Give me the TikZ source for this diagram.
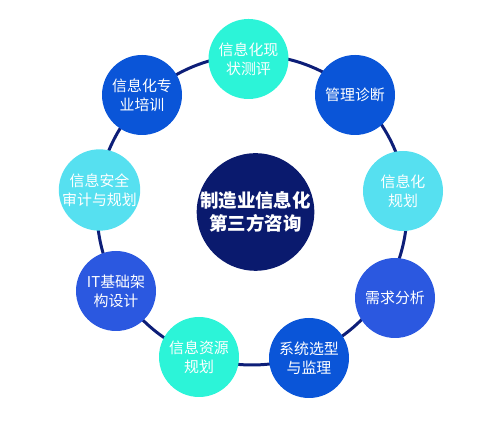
\documentclass[tikz,border=0pt]{standalone}
\usepackage{fontspec}
\newfontfamily\cjk{Noto Sans CJK SC}
\definecolor{navy}{RGB}{10,26,110}
\definecolor{ringblue}{RGB}{13,30,120}
\definecolor{teal}{RGB}{44,244,216}
\definecolor{sky}{RGB}{86,224,240}
\definecolor{deepblue}{RGB}{10,85,216}
\definecolor{midblue}{RGB}{43,88,224}
\begin{document}
\begin{tikzpicture}[
    bubble/.style={circle, minimum size=1.6cm, inner sep=0pt, align=center,
      text=white, font=\cjk\fontsize{8.5}{10.8}\selectfont},
    hub/.style={circle, fill=navy, minimum size=2.32cm, inner sep=0pt, align=center,
      text=white, font=\cjk\bfseries\fontsize{10.5}{12.6}\selectfont}]
  \useasboundingbox (0,0) rectangle (10,8.5);
  % ring behind the bubbles
  \coordinate (ring) at (5.04,4.30);
  \draw[ringblue, line width=1.7pt] (ring) circle (3.1);
  % centre
  \node[hub] (consult) at (5.11,4.26) {制造业信息化\\第三方咨询};
  % services round the ring
  \node[bubble, fill=teal]     (status)   at (4.97,7.32) {信息化现\\状测评};
  \node[bubble, fill=deepblue] (diagnose) at (7.10,6.60) {管理诊断};
  \node[bubble, fill=sky]      (plan)     at (8.06,4.68) {信息化\\规划};
  \node[bubble, fill=midblue]  (demand)   at (7.90,2.54) {需求分析};
  \node[bubble, fill=deepblue] (select)   at (6.18,1.34) {系统选型\\与监理};
  \node[bubble, fill=teal]     (resource) at (3.98,1.36) {信息资源\\规划};
  \node[bubble, fill=midblue]  (infra)    at (2.32,2.68) {IT基础架\\构设计};
  \node[bubble, fill=sky]      (security) at (1.99,4.70) {信息安全\\审计与规划};
  \node[bubble, fill=deepblue] (training) at (2.84,6.60) {信息化专\\业培训};
\end{tikzpicture}
\end{document}
